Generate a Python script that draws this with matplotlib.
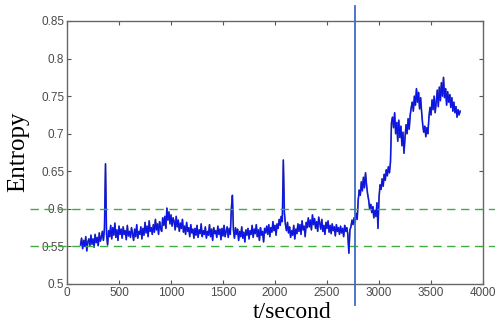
import numpy as np
import matplotlib
matplotlib.use("Agg")
import matplotlib.pyplot as plt

# entropy samples, one every 10 s starting at t=130
t_start = 130
t_step = 10
entropy = [
    0.552, 0.561, 0.547, 0.558, 0.550, 0.563, 0.544, 0.556, 0.560, 0.551,
    0.565, 0.553, 0.560, 0.549, 0.566, 0.555, 0.562, 0.551, 0.568, 0.557,
    0.562, 0.570, 0.558, 0.574, 0.660, 0.566, 0.552, 0.571, 0.563, 0.578,
    0.560, 0.575, 0.565, 0.581, 0.562, 0.572, 0.558, 0.577, 0.566, 0.573,
    0.561, 0.576, 0.566, 0.571, 0.559, 0.578, 0.564, 0.570, 0.562, 0.575,
    0.567, 0.558, 0.573, 0.563, 0.579, 0.561, 0.570, 0.566, 0.576, 0.560,
    0.574, 0.565, 0.582, 0.568, 0.577, 0.563, 0.584, 0.570, 0.575, 0.566,
    0.579, 0.569, 0.586, 0.572, 0.580, 0.566, 0.583, 0.574, 0.570, 0.588,
    0.578, 0.590, 0.574, 0.601, 0.585, 0.596, 0.580, 0.592, 0.577, 0.588,
    0.583, 0.572, 0.590, 0.576, 0.585, 0.570, 0.581, 0.574, 0.586, 0.569,
    0.577, 0.566, 0.582, 0.570, 0.575, 0.563, 0.579, 0.568, 0.573, 0.561,
    0.574, 0.565, 0.578, 0.562, 0.572, 0.567, 0.580, 0.563, 0.571, 0.566,
    0.576, 0.561, 0.570, 0.565, 0.579, 0.563, 0.573, 0.558, 0.575, 0.567,
    0.571, 0.562, 0.577, 0.566, 0.573, 0.559, 0.574, 0.564, 0.578, 0.563,
    0.570, 0.576, 0.562, 0.574, 0.566, 0.600, 0.618, 0.572, 0.561, 0.575,
    0.566, 0.573, 0.558, 0.570, 0.563, 0.576, 0.561, 0.569, 0.556, 0.572,
    0.565, 0.574, 0.560, 0.571, 0.566, 0.578, 0.562, 0.573, 0.567, 0.579,
    0.563, 0.572, 0.558, 0.575, 0.565, 0.570, 0.556, 0.574, 0.568, 0.577,
    0.566, 0.579, 0.563, 0.575, 0.569, 0.583, 0.571, 0.578, 0.565, 0.580,
    0.574, 0.586, 0.578, 0.590, 0.583, 0.665, 0.595, 0.579, 0.571, 0.582,
    0.568, 0.576, 0.562, 0.571, 0.565, 0.578, 0.560, 0.573, 0.567, 0.580,
    0.570, 0.579, 0.566, 0.584, 0.572, 0.577, 0.563, 0.582, 0.575, 0.588,
    0.576, 0.585, 0.572, 0.592, 0.579, 0.587, 0.574, 0.583, 0.570, 0.589,
    0.581, 0.573, 0.586, 0.570, 0.578, 0.566, 0.582, 0.574, 0.584, 0.569,
    0.578, 0.567, 0.580, 0.571, 0.576, 0.564, 0.579, 0.570, 0.575, 0.566,
    0.577, 0.568, 0.574, 0.563, 0.578, 0.570, 0.575, 0.566, 0.541, 0.572,
    0.576, 0.585, 0.579, 0.588, 0.582, 0.594, 0.586, 0.612, 0.625, 0.618,
    0.636, 0.624, 0.642, 0.628, 0.648, 0.632, 0.620, 0.612, 0.600, 0.606,
    0.595, 0.603, 0.588, 0.598, 0.590, 0.608, 0.574, 0.615, 0.632, 0.626,
    0.640, 0.630, 0.646, 0.638, 0.652, 0.644, 0.656, 0.648, 0.662, 0.715,
    0.722, 0.708, 0.728, 0.700, 0.715, 0.690, 0.718, 0.695, 0.710, 0.684,
    0.702, 0.674, 0.695, 0.712, 0.700, 0.720, 0.706, 0.725, 0.735, 0.742,
    0.730, 0.750, 0.738, 0.760, 0.742, 0.755, 0.733, 0.748, 0.728, 0.712,
    0.702, 0.710, 0.696, 0.708, 0.700, 0.722, 0.735, 0.725, 0.745, 0.732,
    0.750, 0.728, 0.742, 0.758, 0.736, 0.762, 0.744, 0.768, 0.750, 0.775,
    0.748, 0.760, 0.738, 0.756, 0.742, 0.752, 0.735, 0.748, 0.730, 0.742,
    0.728, 0.736, 0.722, 0.732, 0.725, 0.730,
]
t = t_start + t_step * np.arange(len(entropy))

change_time = 2770          # vertical marker
thresholds = [0.6, 0.55]    # green dashed bands

xticks = [0, 500, 1000, 1500, 2000, 2500, 3000, 3500, 4000]
yticks = [0.5, 0.55, 0.6, 0.65, 0.7, 0.75, 0.8, 0.85]
ytick_labels = ["0.5", "0.55", "0.6", "0.65", "0.7", "0.75", "0.8", "0.85"]

fig = plt.figure(figsize=(4.95, 3.27), dpi=100)
ax = fig.add_axes([0.1354, 0.1315, 0.8404, 0.8043])

ax.plot(t, entropy, color="#5a5a96", lw=1.2, zorder=2)
ax.plot(t, entropy, color="#0a14e6", lw=0.9, zorder=3)

for y in thresholds:
    ax.axhline(y, xmin=-0.089, xmax=1.03, color="#3fae3f", lw=1.0,
               ls=(0, (6, 4)), clip_on=False, zorder=4)

ax.axvline(change_time, ymin=-0.08, ymax=1.057, color="#3f6cc4", lw=1.3,
           clip_on=False, zorder=5)

ax.set_xlim(0, 4000)
ax.set_ylim(0.5, 0.85)
ax.set_xticks(xticks)
ax.set_yticks(yticks)
ax.set_yticklabels(ytick_labels)

ax.tick_params(direction="in", top=True, right=True, length=3, width=0.8,
               color="#555555", labelsize=8.5, labelcolor="#4a4a4a", pad=2)
for lab in ax.get_xticklabels() + ax.get_yticklabels():
    lab.set_family("Liberation Sans")
for s in ax.spines.values():
    s.set_color("#666666")
    s.set_linewidth(1.0)

fig.text(0.59, 0.045, "t/second", ha="center", va="center",
         family="Liberation Serif", fontsize=17)
fig.text(0.037, 0.535, "Entropy", ha="center", va="center", rotation=90,
         family="Liberation Serif", fontsize=18)

fig.savefig("out.png", dpi=100, facecolor="white")
